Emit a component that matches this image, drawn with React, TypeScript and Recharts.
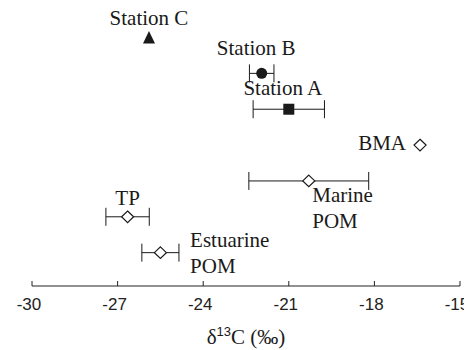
import React from 'react';
import { ErrorBar, Label, Scatter, ScatterChart, XAxis, YAxis } from 'recharts';

// sites from top to bottom of the plot
const sites = ['Station C', 'Station B', 'Station A', 'BMA', 'Marine POM', 'TP', 'Estuarine POM'];
const delta13C = [-25.9, -21.95, -21.0, -16.4, -20.3, -26.65, -25.5];
const sdDelta13C = [0, 0.43, 1.25, 0, 2.1, 0.76, 0.65];
const rowOrder = [7, 6, 5, 4, 3, 2, 1];
const xTicks = [-30, -27, -24, -21, -18, -15];

const SERIF = "'Liberation Serif', 'Times New Roman', serif";
const SANS = "'Liberation Sans', Arial, sans-serif";
const INK = '#1a1a1a';

type Kind = 'triangle' | 'circle' | 'square' | 'diamond';
const markerKind: Kind[] = ['triangle', 'circle', 'square', 'diamond', 'diamond', 'diamond', 'diamond'];

// label offset from the marker centre (baseline of first line)
const labelPlacement = [
  { dx: 0, dy: -12.5, anchor: 'middle', wrap: false },
  { dx: -5.5, dy: -18, anchor: 'middle', wrap: false },
  { dx: -6, dy: -14.5, anchor: 'middle', wrap: false },
  { dx: -14, dy: 4.5, anchor: 'end', wrap: false },
  { dx: 3.5, dy: 21.3, anchor: 'start', wrap: true },
  { dx: 0, dy: -11.7, anchor: 'middle', wrap: false },
  { dx: 29.7, dy: -5.6, anchor: 'start', wrap: true },
];

const Marker = ({ cx, cy, kind }: { cx: number; cy: number; kind: Kind }) => {
  if (kind === 'triangle') {
    return <path d={`M${cx},${cy - 6.5}L${cx + 6},${cy + 6}L${cx - 6},${cy + 6}Z`} fill={INK} />;
  }
  if (kind === 'circle') return <circle cx={cx} cy={cy} r={5.5} fill={INK} />;
  if (kind === 'square') return <rect x={cx - 5.5} y={cy - 5.5} width={11} height={11} fill={INK} />;
  return (
    <path
      d={`M${cx},${cy - 5.8}L${cx + 6},${cy}L${cx},${cy + 5.8}L${cx - 6},${cy}Z`}
      fill="#fff"
      stroke={INK}
      strokeWidth={1.2}
    />
  );
};

const renderPoint = (i: number) => (props: any) => {
  const { cx, cy } = props;
  const p = labelPlacement[i];
  const lines = p.wrap ? sites[i].split(' ') : [sites[i]];
  const tx = cx + p.dx;
  return (
    <g>
      <Marker cx={cx} cy={cy} kind={markerKind[i]} />
      <text x={tx} y={cy + p.dy} textAnchor={p.anchor as any} fill={INK} fontFamily={SERIF} fontSize={21}>
        {lines.map((line, k) => (
          <tspan key={k} x={tx} dy={k === 0 ? 0 : 25.7}>
            {line}
          </tspan>
        ))}
      </text>
    </g>
  );
};

const AxisTitle = (props: any) => {
  const { x, y, width } = props.viewBox;
  return (
    <text x={x + width / 2} y={y + 58} textAnchor="middle" fill={INK} fontFamily={SERIF} fontSize={21}>
      δ
      <tspan dy={-8} fontFamily={SANS} fontSize={13}>
        13
      </tspan>
      <tspan dy={8}>C (‰)</tspan>
    </text>
  );
};

export default function App() {
  return (
    <div style={{ margin: '-8px 0 0 -8px', width: 472, height: 350 }}>
      <ScatterChart width={472} height={350} margin={{ top: 16, right: 12, bottom: 4, left: 32 }}>
        <XAxis
          type="number"
          dataKey="x"
          domain={[-30, -15]}
          ticks={xTicks}
          allowDataOverflow
          height={60}
          tickSize={-5}
          tickMargin={17}
          axisLine={{ stroke: '#222' }}
          tickLine={{ stroke: '#222' }}
          tick={{ fill: '#222', fontSize: 17, fontFamily: SANS, dx: -3 }}
        >
          <Label content={AxisTitle} />
        </XAxis>
        <YAxis type="number" dataKey="y" domain={[0.07, 7.6]} hide />
        {sites.map((site, i) => (
          <Scatter
            key={site}
            name={site}
            data={[{ x: delta13C[i], y: rowOrder[i], err: sdDelta13C[i] }]}
            shape={renderPoint(i)}
            isAnimationActive={false}
          >
            {sdDelta13C[i] > 0 && (
              <ErrorBar dataKey="err" direction="x" width={9} stroke={INK} strokeWidth={1} />
            )}
          </Scatter>
        ))}
      </ScatterChart>
    </div>
  );
}
